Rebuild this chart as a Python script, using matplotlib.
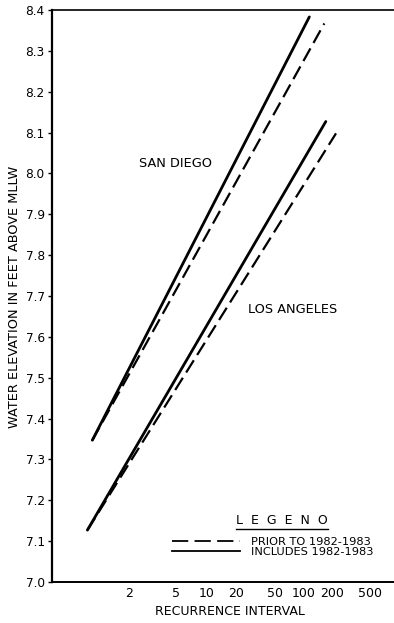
import numpy as np
import matplotlib
matplotlib.use("Agg")
import matplotlib.pyplot as plt
from matplotlib.lines import Line2D
from matplotlib.ticker import NullLocator

# recurrence interval (years) and water elevation (ft above MLLW), line end points
sd_new_T = [1.223, 114.8]
sd_new_z = [7.347, 8.383]
sd_old_T = [1.223, 165.0]
sd_old_z = [7.347, 8.367]

la_new_T = [1.172, 171.0]
la_new_z = [7.127, 8.127]
la_old_T = [1.172, 219.0]
la_old_z = [7.127, 8.098]

recur_ticks = [2, 5, 10, 20, 50, 100, 200, 500]
elev_ticks = [7.0, 7.1, 7.2, 7.3, 7.4, 7.5, 7.6, 7.7, 7.8, 7.9, 8.0, 8.1, 8.2, 8.3, 8.4]


# Gumbel (extreme value) probability paper
def gumbel(T):
    T = np.asarray(T, dtype=float)
    with np.errstate(all='ignore'):
        return -np.log(-np.log(1 - 1 / T))

def gumbel_inv(u):
    u = np.asarray(u, dtype=float)
    with np.errstate(all='ignore'):
        return 1 / (1 - np.exp(-np.exp(-u)))


plt.rcParams['font.family'] = ['DejaVu Sans']

fig = plt.figure(figsize=(3.94, 6.23), dpi=100)
ax = fig.add_axes([0.1312, 0.0658, 0.8688, 0.9182])
ax.set_xscale('function', functions=(gumbel, gumbel_inv))
ax.set_xlim(1.0105, 894)
ax.set_ylim(7.0, 8.4)

solid = dict(color='black', lw=2.0, solid_capstyle='round')
dashed = dict(color='black', lw=1.6, linestyle=(0, (6.5, 2.8)))

ax.plot(sd_new_T, sd_new_z, **solid)
ax.plot(sd_old_T, sd_old_z, **dashed)
ax.plot(la_new_T, la_new_z, **solid)
ax.plot(la_old_T, la_old_z, **dashed)

ax.text(5.0, 8.025, 'SAN DIEGO', ha='center', va='center', fontsize=9.3)
ax.text(77, 7.666, 'LOS ANGELES', ha='center', va='center', fontsize=9.3)

ax.set_xticks(recur_ticks)
ax.set_xticklabels([str(t) for t in recur_ticks])
ax.xaxis.set_minor_locator(NullLocator())
ax.set_yticks(elev_ticks)
ax.set_yticklabels(['%.1f' % v for v in elev_ticks])
ax.tick_params(axis='x', length=0, pad=3.5, labelsize=9)
ax.tick_params(axis='y', length=3, width=1, pad=2, labelsize=8.7, direction='out')

ax.set_xlabel('RECURRENCE INTERVAL', fontsize=9)
ax.xaxis.set_label_coords(0.521, -0.04)
ax.set_ylabel('WATER ELEVATION IN FEET ABOVE MLLW', fontsize=9.3)
ax.yaxis.set_label_coords(-0.09, 0.498)

ax.spines['right'].set_visible(False)
ax.spines['left'].set_linewidth(1.6)
ax.spines['bottom'].set_linewidth(1.4)
ax.spines['top'].set_linewidth(1.2)

# legend
handles = [Line2D([], [], color='black', lw=1.3, linestyle=(0, (9, 3.5))),
           Line2D([], [], color='black', lw=1.3)]
ax.legend(handles, ['PRIOR TO 1982-1983', 'INCLUDES 1982-1983'],
          loc='upper left', bbox_to_anchor=(0.4365, 0.1385),
          bbox_transform=fig.transFigure, frameon=False, fontsize=8.2,
          borderpad=0, borderaxespad=0, handlelength=6.0, handletextpad=0.95,
          labelspacing=0.05)
fig.text(0.716, 0.165, 'L  E  G  E  N  O', ha='center', va='center', fontsize=9)
fig.add_artist(Line2D([0.599, 0.832], [0.151, 0.151], color='black', lw=1.0,
                      transform=fig.transFigure))

fig.savefig('out.png', dpi=100, facecolor='white')
